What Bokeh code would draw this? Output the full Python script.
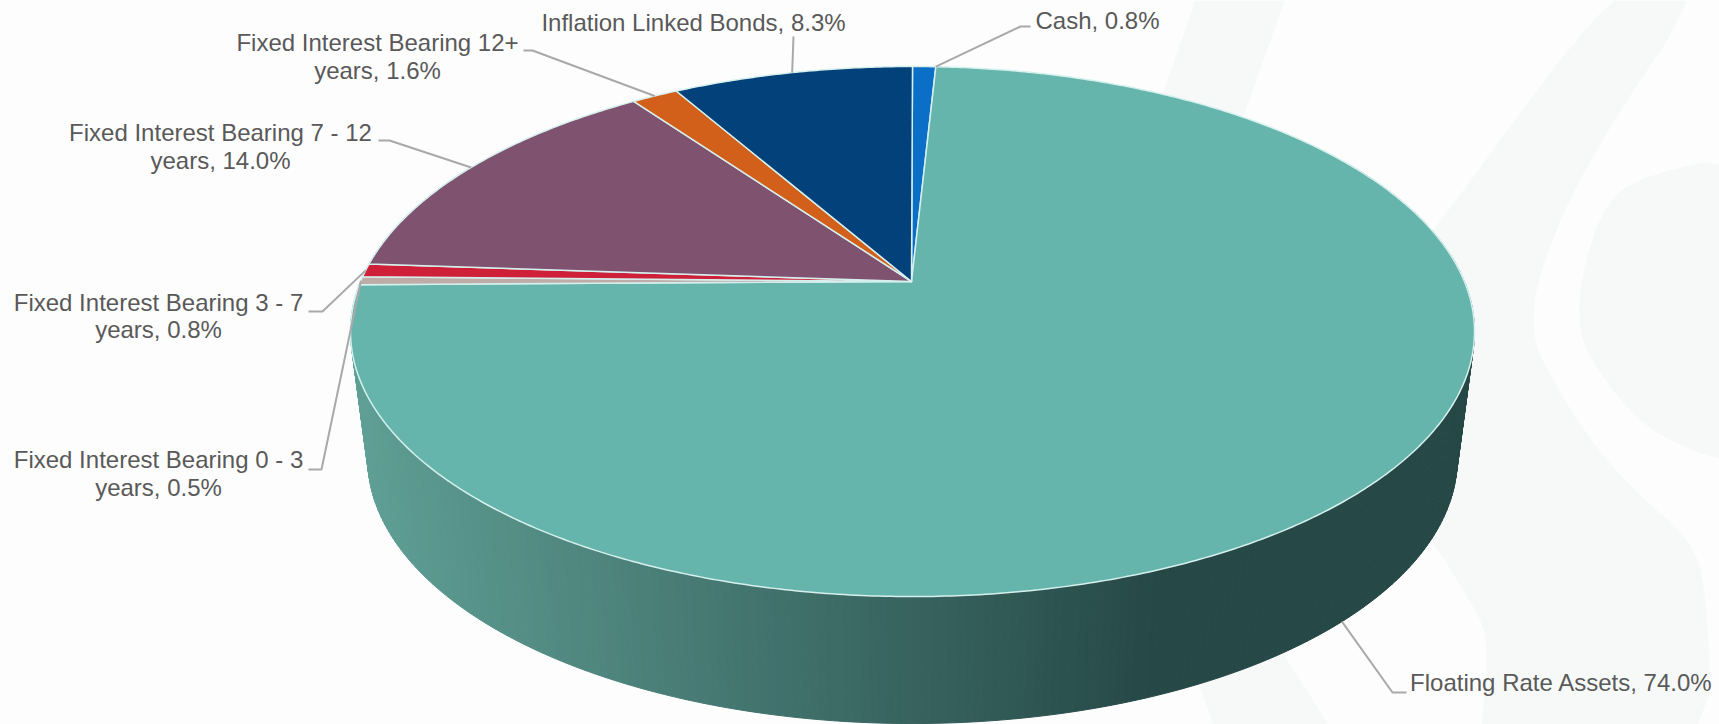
import numpy as np
from bokeh.core.properties import value
from bokeh.embed import file_html
from bokeh.models import ColumnDataSource
from bokeh.plotting import figure
from bokeh.resources import INLINE

# Allocation shares, clockwise from twelve o'clock
categories = [
    "Cash",
    "Floating Rate Assets",
    "Fixed Interest Bearing 0 - 3 years",
    "Fixed Interest Bearing 3 - 7 years",
    "Fixed Interest Bearing 7 - 12 years",
    "Fixed Interest Bearing 12+ years",
    "Inflation Linked Bonds",
]
shares = [0.8, 74.0, 0.5, 0.8, 14.0, 1.6, 8.3]
slice_colors = ["#0b6fc8", "#65b5ac", "#bdaca8", "#cf2039", "#7f5270", "#d2601a", "#03417a"]

# Label block centres and where each label wraps
label_x = [1097, 1561, 158, 158, 220, 377, 693]
label_y = [20, 682, 473, 315.5, 146, 56, 22]
wrap_after = [None, None, "0 - 3", "3 - 7", "7 - 12", "12+", None]

# Leader elbows: text end of the line, then the knee
leader_start_x = [1030, 1406, 308, 308, 378, 523, 793]
leader_start_y = [26, 692, 469, 311, 140, 50, 36]
leader_knee_x = [1020, 1392, 321, 322, 389, 532, 793]
leader_knee_y = [26, 692, 469, 311, 140, 50, 36]

# Pale decorative shapes of the page background
band_upper_x = [1205, 1295, 1238, 1160]
band_upper_y = [-30, -30, 130, 100]
band_lower_x = [1190, 1222, 1345, 1274]
band_lower_y = [660, 750, 750, 640]
wave_x = [1624, 1714, 1586, 1536, 1532, 1542, 1586, 1632, 1686, 1706, 1712, 1478, 1487, 1484, 1462, 1432, 1300, 1436]
wave_y = [-30, -30, 160, 277, 333, 362, 435, 489, 535, 579, 760, 760, 662, 625, 589, 539, 400, 227]
disc_x = [1760, 1632, 1599, 1579, 1579, 1592, 1619, 1652, 1712, 1760]
disc_y = [150, 177, 213, 283, 333, 362, 399, 432, 459, 462]

WIDTH, HEIGHT = 1719, 724
BACKGROUND = "#fdfdfd"
PALE = "#f7f9f9"
TEXT = "#595959"
LEADER = "#a9a9a9"
EDGE = "#d6f0ee"

# Perspective of the pie's top and bottom discs
TILT = 0.1887
TOP = dict(cx=912.0, cy=281.0, a=551.9, h=255.6)
BOTTOM = dict(cx=912.0, cy=408.0, a=535.0, h=255.6)


def rim(deg, disc):
    """Screen position of a rim point, with deg measured clockwise from the top."""
    t = np.radians(deg)
    u, v = np.sin(t), np.cos(t)
    d = 1 + TILT * v
    return disc["cx"] + disc["a"] * u / d, disc["cy"] - disc["h"] * v / d


def smooth(xs, ys, passes=3):
    """Round a closed outline by corner cutting."""
    x, y = np.array(xs, float), np.array(ys, float)
    for _ in range(passes):
        nx, ny = np.roll(x, -1), np.roll(y, -1)
        x = np.column_stack([0.75 * x + 0.25 * nx, 0.25 * x + 0.75 * nx]).ravel()
        y = np.column_stack([0.75 * y + 0.25 * ny, 0.25 * y + 0.75 * ny]).ravel()
    return x.tolist(), y.tolist()


def side_color(x):
    """Shade of the pie wall, darkening from left to right."""
    f = np.clip((x - 350) / 800, 0, 1)
    light, dark = (96, 160, 150), (38, 73, 71)
    r, g, b = (int(round(c0 + (c1 - c0) * f)) for c0, c1 in zip(light, dark))
    return f"#{r:02x}{g:02x}{b:02x}"


p = figure(
    width=WIDTH, height=HEIGHT,
    x_range=(0, WIDTH), y_range=(HEIGHT, 0),
    output_backend="svg", toolbar_location=None,
    min_border=0, outline_line_color=None,
    background_fill_color=BACKGROUND, border_fill_color=BACKGROUND,
)
p.axis.visible = False
p.grid.visible = False

# Background shapes
shapes = [
    (band_upper_x, band_upper_y, 0),
    (band_lower_x, band_lower_y, 0),
    (wave_x, wave_y, 2),
    (disc_x, disc_y, 3),
]
for sx, sy, passes in shapes:
    ox, oy = smooth(sx, sy, passes) if passes else (sx, sy)
    p.patch(ox, oy, fill_color=PALE, line_color=None)

# Curved wall of the pie, one narrow facet per step
edges = np.cumsum([0.0] + shares) * 3.6
wall_deg = np.arange(60.0, 300.0, 0.75)
wall_xs, wall_ys, wall_colors = [], [], []
for d0, d1 in zip(wall_deg[:-1], wall_deg[1:]):
    x0, y0 = rim(d0, TOP)
    x1, y1 = rim(d1, TOP)
    x2, y2 = rim(d1, BOTTOM)
    x3, y3 = rim(d0, BOTTOM)
    wall_xs.append([x0, x1, x2, x3])
    wall_ys.append([y0, y1, y2, y3])
    wall_colors.append(side_color((x0 + x1 + x2 + x3) / 4))
p.patches(wall_xs, wall_ys, fill_color=wall_colors, line_color=wall_colors, line_width=1)

# Top face, one wedge per category
wedge_xs, wedge_ys = [], []
for start, stop in zip(edges[:-1], edges[1:]):
    deg = np.linspace(start, stop, max(3, int((stop - start) * 2) + 2))
    rx, ry = rim(deg, TOP)
    wedge_xs.append([TOP["cx"] - 1] + rx.tolist())
    wedge_ys.append([TOP["cy"]] + ry.tolist())
p.patches(wedge_xs, wedge_ys, fill_color=slice_colors, line_color=EDGE, line_width=1.5,
          line_join="round")

# Leader lines end on the rim at each wedge's middle; Cash is anchored at its far edge
mids = (edges[:-1] + edges[1:]) / 2
anchors = []
for i, mid in enumerate(mids):
    if categories[i] == "Floating Rate Assets":
        anchors.append(rim(mid, BOTTOM))
    elif categories[i] == "Cash":
        anchors.append(rim(edges[i + 1], TOP))
    else:
        anchors.append(rim(mid, TOP))
p.multi_line(
    [[sx, kx, a[0]] for sx, kx, a in zip(leader_start_x, leader_knee_x, anchors)],
    [[sy, ky, a[1]] for sy, ky, a in zip(leader_start_y, leader_knee_y, anchors)],
    line_color=LEADER, line_width=2,
)

# Labels: category and share, wrapped after the range where needed
labels = []
for cat, share, wrap in zip(categories, shares, wrap_after):
    text = f"{cat}, {share:.1f}%"
    if wrap:
        text = text.replace(f"{wrap} ", f"{wrap}\n", 1)
    labels.append(text)

source = ColumnDataSource(dict(x=label_x, y=label_y, text=labels))
p.text(
    "x", "y", "text", source=source,
    text_font=value("Liberation Sans"), text_font_size="24px", text_color=TEXT,
    text_align="center", text_baseline="middle", text_line_height=1.02,
)

open("out.html", "w").write(file_html(p, INLINE))
